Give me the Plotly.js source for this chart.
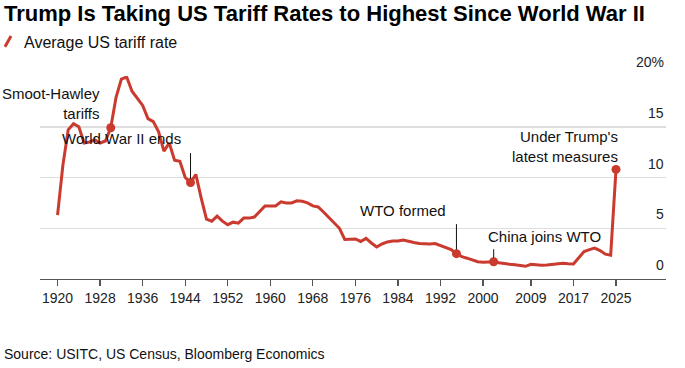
<!DOCTYPE html>
<html><head><meta charset="utf-8">
<script src="https://cdn.plot.ly/plotly-3.0.1.min.js"></script>
<style>html,body{margin:0;padding:0;background:#fff}#chart{width:685px;height:368px}</style>
</head><body><div id="chart"></div>
<script>
const years = [1920,1921,1922,1923,1924,1925,1926,1927,1928,1929,
  1930,1931,1932,1933,1934,1935,1936,1937,1938,1939,
  1940,1941,1942,1943,1944,1945,1946,1947,1948,1949,
  1950,1951,1952,1953,1954,1955,1956,1957,1958,1959,
  1960,1961,1962,1963,1964,1965,1966,1967,1968,1969,
  1970,1971,1972,1973,1974,1975,1976,1977,1978,1979,
  1980,1981,1982,1983,1984,1985,1986,1987,1988,1989,
  1990,1991,1992,1993,1994,1995,1996,1997,1998,1999,
  2000,2001,2002,2003,2004,2005,2006,2007,2008,2009,
  2010,2011,2012,2013,2014,2015,2016,2017,2018,2019,
  2020,2021,2022,2023,2024,2025];
const tariffRate = [6.3,11.2,14.7,15.3,15.0,13.4,13.5,13.7,13.4,13.6,
  14.9,17.9,19.7,19.9,18.5,17.8,17.1,15.8,15.5,14.5,
  12.6,13.4,11.7,11.6,10.0,9.5,10.3,8.0,5.9,5.7,
  6.2,5.7,5.35,5.6,5.5,6.0,6.0,6.1,6.7,7.2,
  7.2,7.2,7.6,7.5,7.5,7.7,7.65,7.5,7.2,7.1,
  6.6,6.1,5.6,5.0,3.9,3.95,3.95,3.7,4.0,3.55,
  3.15,3.45,3.65,3.75,3.75,3.85,3.7,3.6,3.5,3.45,
  3.45,3.5,3.3,3.15,2.9,2.5,2.2,2.05,1.9,1.7,
  1.65,1.65,1.7,1.6,1.5,1.45,1.4,1.3,1.25,1.45,
  1.4,1.35,1.38,1.45,1.5,1.55,1.5,1.48,2.1,2.7,
  2.9,3.05,2.8,2.45,2.35,10.8];
const tickYears = [1920,1928,1936,1944,1952,1960,1968,1976,1984,1992,2000,2009,2017,2025];
const tickLabels = ["1920","1928","1936","1944","1952","1960","1968","1976","1984","1992","2000","2009","2017","2025"];
const yGridVals = [0,5,10,15,20];
const yTickLabels = ["0","5","10","15","20%"];
const eventYears = [1930,1945,1995,2002,2025];
const eventLabels = ["Smoot-Hawley<br>tariffs","World War II ends","WTO formed","China joins WTO","Under Trump's<br>latest measures"];

const RED = "#cb3a2e";
const FONT = "Liberation Sans, Arial, Helvetica, sans-serif";
const eventVals = eventYears.map(y => tariffRate[years.indexOf(y)]);

const traces = [
  {x: years, y: tariffRate, type: "scatter", mode: "lines",
   line: {color: RED, width: 3}, hoverinfo: "skip", showlegend: false, cliponaxis: false},
  {x: eventYears, y: eventVals, type: "scatter", mode: "markers",
   marker: {color: RED, size: 9}, hoverinfo: "skip", showlegend: false, cliponaxis: false}
];

const annotations = [];
// y tick labels
yGridVals.forEach((v, i) => annotations.push({
  xref: "paper", yref: "y", x: 1.0, y: v, xanchor: "right", yanchor: "middle",
  yshift: 14, showarrow: false, text: yTickLabels[i],
  font: {family: FONT, size: 14, color: "#222"}
}));
// event text labels
const evtPos = [
  {x: 1928.3, y: 17.3, xanchor: "right", align: "right"},
  {x: 1932.05, y: 13.8, xanchor: "center", align: "center"},
  {x: 1985.0, y: 6.73, xanchor: "center", align: "center"},
  {x: 2011.5, y: 4.14, xanchor: "center", align: "center"},
  {x: 2025.74, y: 13.1, xanchor: "right", align: "right"}
];
eventLabels.forEach((t, i) => annotations.push(Object.assign({
  xref: "x", yref: "y", yanchor: "middle", showarrow: false, text: t,
  font: {family: FONT, size: 15, color: "#111"}
}, evtPos[i])));
// connector ticks
const connectors = [{i: 1, ay: -31}, {i: 2, ay: -31}, {i: 3, ay: -14}];
connectors.forEach(c => annotations.push({
  xref: "x", yref: "y", x: eventYears[c.i], y: eventVals[c.i], ax: 0, ay: c.ay,
  showarrow: true, arrowhead: 0, arrowwidth: 1, arrowcolor: "#111", standoff: 4, text: ""
}));
// title, legend, source
annotations.push({xref: "paper", yref: "paper", x: -0.061, y: 1.306, xanchor: "left", yanchor: "middle",
  showarrow: false, text: "<b>Trump Is Taking US Tariff Rates to Highest Since World War II</b>",
  font: {family: FONT, size: 22, color: "#000"}});
annotations.push({xref: "paper", yref: "paper", x: -0.029, y: 1.167, xanchor: "left", yanchor: "middle",
  showarrow: false, text: "Average US tariff rate",
  font: {family: FONT, size: 16, color: "#111"}});
annotations.push({xref: "paper", yref: "paper", x: -0.061, y: -0.369, xanchor: "left", yanchor: "middle",
  showarrow: false, text: "Source: USITC, US Census, Bloomberg Economics",
  font: {family: FONT, size: 14, color: "#111"}});

const layout = {
  width: 685, height: 368,
  margin: {l: 40, r: 19, t: 76, b: 88.7, pad: 0},
  paper_bgcolor: "#fff", plot_bgcolor: "#fff",
  showlegend: false,
  font: {family: FONT, color: "#222"},
  xaxis: {range: [1916.7, 2034.4], tickvals: tickYears, ticktext: tickLabels,
    ticks: "outside", ticklen: 6, tickwidth: 1.3, tickcolor: "#555",
    showline: true, linecolor: "#555", linewidth: 1.3,
    showgrid: false, zeroline: false, tickfont: {family: FONT, size: 14, color: "#222"}},
  yaxis: {range: [0, 20], tickvals: yGridVals, showticklabels: false, ticks: "",
    showgrid: true, gridcolor: "#dedede", gridwidth: 1.5, zeroline: false, showline: false},
  shapes: [{type: "line", xref: "paper", yref: "paper", x0: -0.0559, y0: 1.144, x1: -0.0463, y1: 1.197,
    line: {color: RED, width: 3}}],
  annotations: annotations
};
Plotly.newPlot("chart", traces, layout, {staticPlot: true, displayModeBar: false});
</script></body></html>
